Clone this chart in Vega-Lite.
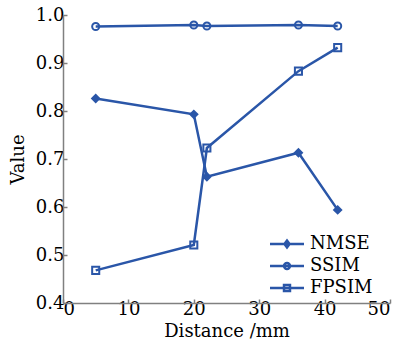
{
  "$schema": "https://vega.github.io/schema/vega-lite/v6.json",
  "width": 327,
  "height": 288,
  "autosize": {"type": "none"},
  "padding": {"left": 63, "top": 15, "right": 16, "bottom": 44},
  "background": "white",
  "config": {
    "view": {"stroke": null},
    "font": "DejaVu Serif",
    "axis": {
      "domainColor": "#808080",
      "domainWidth": 1.5,
      "tickColor": "#808080",
      "tickWidth": 1.5,
      "tickSize": -4,
      "grid": false,
      "labelFont": "DejaVu Serif",
      "labelFontSize": 18,
      "labelColor": "black",
      "titleFont": "DejaVu Serif",
      "titleFontSize": 18,
      "titleFontWeight": "normal",
      "titleColor": "black"
    }
  },
  "data": {
    "values": [
      {"series": "NMSE", "distance": 5, "value": 0.826},
      {"series": "NMSE", "distance": 20, "value": 0.793},
      {"series": "NMSE", "distance": 22, "value": 0.663},
      {"series": "NMSE", "distance": 36, "value": 0.713},
      {"series": "NMSE", "distance": 42, "value": 0.594},
      {"series": "SSIM", "distance": 5, "value": 0.976},
      {"series": "SSIM", "distance": 20, "value": 0.979},
      {"series": "SSIM", "distance": 22, "value": 0.977},
      {"series": "SSIM", "distance": 36, "value": 0.979},
      {"series": "SSIM", "distance": 42, "value": 0.977},
      {"series": "FPSIM", "distance": 5, "value": 0.468},
      {"series": "FPSIM", "distance": 20, "value": 0.521},
      {"series": "FPSIM", "distance": 22, "value": 0.723},
      {"series": "FPSIM", "distance": 36, "value": 0.883},
      {"series": "FPSIM", "distance": 42, "value": 0.932}
    ]
  },
  "encoding": {
    "x": {
      "field": "distance",
      "type": "quantitative",
      "scale": {"domain": [0, 50]},
      "axis": {"values": [0, 10, 20, 30, 40, 50], "title": "Distance /mm", "labelPadding": 1, "titlePadding": 4}
    },
    "y": {
      "field": "value",
      "type": "quantitative",
      "scale": {"domain": [0.4, 1.0]},
      "axis": {"values": [0.4, 0.5, 0.6, 0.7, 0.8, 0.9, 1.0], "format": ".1f", "title": "Value", "labelPadding": 3, "titlePadding": 8}
    }
  },
  "layer": [
    {
      "mark": {"type": "line", "color": "#2a56a8", "strokeWidth": 2.5},
      "encoding": {"detail": {"field": "series"}}
    },
    {
      "mark": {"type": "point", "filled": true, "stroke": "#2a56a8", "strokeWidth": 2, "size": 50, "opacity": 1},
      "encoding": {
        "shape": {"field": "series", "scale": {"domain": ["NMSE", "SSIM", "FPSIM"], "range": ["diamond", "circle", "square"]}, "legend": null},
        "fill": {"field": "series", "scale": {"domain": ["NMSE", "SSIM", "FPSIM"], "range": ["#2a56a8", "rgba(0,0,0,0)", "rgba(0,0,0,0)"]}, "legend": null}
      }
    },
    {
      "mark": {"type": "point", "filled": false, "color": "#2a56a8", "strokeWidth": 2, "size": 0, "opacity": 1},
      "encoding": {
        "shape": {
          "field": "series",
          "scale": {
            "domain": ["NMSE", "SSIM", "FPSIM"],
            "range": [
              "M-2,0H2M-0.3,0L0,-0.4L0.3,0L0,0.4Z",
              "M-2,0H2M-0.35,0A0.35,0.35 0 1,0 0.35,0A0.35,0.35 0 1,0 -0.35,0",
              "M-2,0H2M-0.35,-0.35H0.35V0.35H-0.35Z"
            ]
          },
          "legend": {
            "title": null,
            "orient": "none",
            "legendX": 214,
            "legendY": 219,
            "symbolSize": 289,
            "symbolStrokeWidth": 2.5,
            "symbolStrokeColor": "#2a56a8",
            "symbolFillColor": "rgba(0,0,0,0)",
            "labelFont": "DejaVu Serif",
            "labelFontSize": 18,
            "labelColor": "black",
            "labelOffset": 13,
            "rowPadding": 3,
            "padding": 0
          }
        }
      }
    }
  ],
  "resolve": {"scale": {"shape": "independent", "fill": "independent"}}
}
